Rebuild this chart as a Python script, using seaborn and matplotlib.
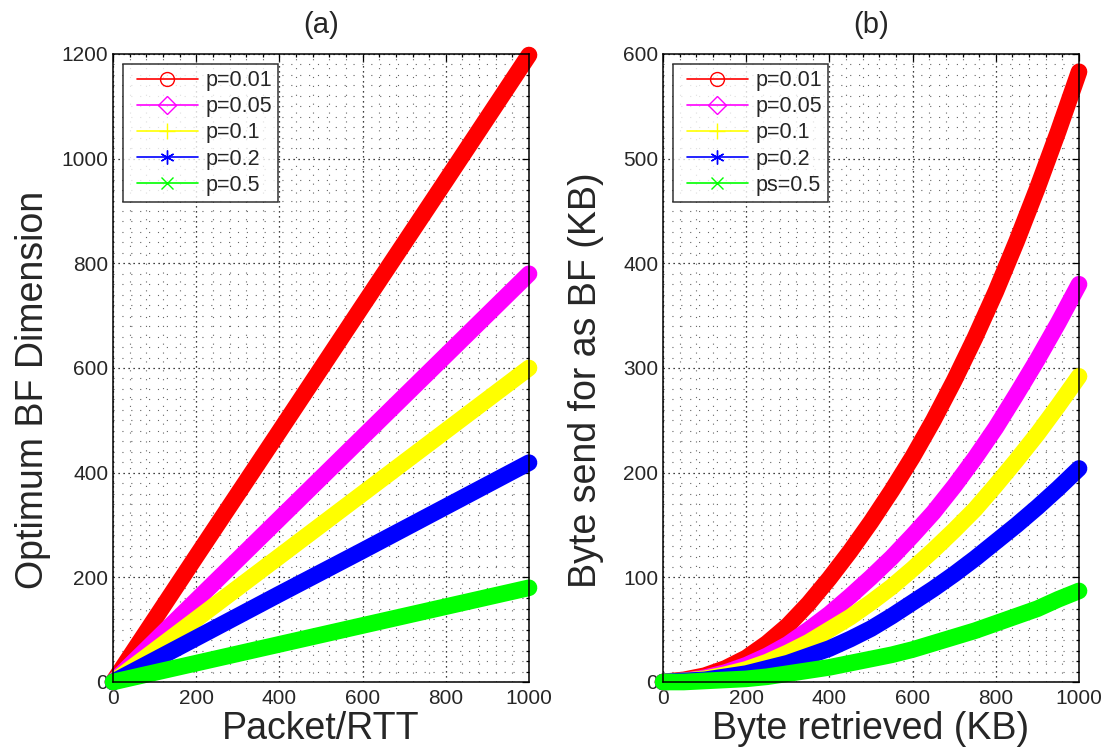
import matplotlib
matplotlib.use("Agg")
import matplotlib.pyplot as plt
import seaborn as sns
import pandas as pd
from matplotlib.lines import Line2D
from matplotlib.legend_handler import HandlerLine2D
from matplotlib.ticker import MultipleLocator

sns.set_style("white")
plt.rcParams['font.family'] = ['Liberation Sans', 'DejaVu Sans']
plt.rcParams['xtick.direction'] = 'in'
plt.rcParams['ytick.direction'] = 'in'

# ---------------- data ----------------
labels_a = ["p=0.01", "p=0.05", "p=0.1", "p=0.2", "p=0.5"]
labels_b = ["p=0.01", "p=0.05", "p=0.1", "p=0.2", "ps=0.5"]

x_a = [0, 200, 400, 600, 800, 1000]
a_p001 = [0, 240, 479, 719, 958, 1198]
a_p005 = [0, 156, 312, 468, 624, 780]
a_p01 = [0, 120, 240, 360, 480, 600]
a_p02 = [0, 84, 168, 251, 335, 419]
a_p05 = [0, 36, 72, 108, 144, 180]

x_b = [0, 50, 100, 150, 200, 250, 300, 350, 400, 450, 500,
       550, 600, 650, 700, 750, 800, 850, 900, 950, 1000]
b_p001 = [0, 2, 6, 13, 23, 37, 54, 75, 99, 125, 153,
          183, 215, 250, 288, 329, 373, 421, 472, 526, 583]
b_p005 = [0, 1, 4, 9, 16, 25, 36, 50, 65, 82, 100,
          119, 140, 162, 187, 214, 243, 275, 308, 343, 380]
b_p01 = [0, 1, 3, 7, 12, 19, 28, 38, 50, 62, 76,
         91, 108, 126, 145, 165, 188, 212, 237, 264, 292]
b_p02 = [0, 1, 2, 5, 8, 13, 18, 25, 32, 41, 51,
         63, 76, 89, 103, 118, 134, 150, 167, 185, 204]
b_p05 = [0, 0, 1, 2, 3, 5, 8, 11, 14, 18, 22,
         26, 31, 37, 43, 49, 56, 63, 70, 79, 87]

colors = ["#ff0000", "#ff00ff", "#ffff00", "#0000ff", "#00ff00"]
asterisk = (6, 2, 0)
markers = ["o", "D", "+", asterisk, "x"]
msizes = [10, 9, 11, 10, 9]

fig = plt.figure(figsize=(11.06, 7.55), dpi=100)
ax_a = fig.add_axes([0.1022, 0.0967, 0.3761, 0.8318])
ax_b = fig.add_axes([0.5995, 0.0967, 0.3761, 0.8318])


def draw(ax, x, series, labels, ylim, ymajor, yminor, ylabel, xlabel, title,
         ylab_xy):
    for ys, c, lab in zip(series, colors, labels):
        df = pd.DataFrame({"x": x, "y": ys})
        sns.lineplot(data=df, x="x", y="y", ax=ax, color=c, linewidth=12,
                     sort=False, legend=False, estimator=None)
    for ln in ax.get_lines():
        ln.set_clip_on(False)
        ln.set_solid_capstyle("round")
        ln.set_solid_joinstyle("round")
    ax.set_xlim(0, 1000)
    ax.set_ylim(*ylim)
    ax.xaxis.set_major_locator(MultipleLocator(200))
    ax.xaxis.set_minor_locator(MultipleLocator(40))
    ax.yaxis.set_major_locator(MultipleLocator(ymajor))
    ax.yaxis.set_minor_locator(MultipleLocator(yminor))
    ax.tick_params(which="both", top=True, right=True, direction="in",
                   labelsize=15, width=0.9, color="black")
    ax.tick_params(axis="y", which="both", pad=3.5)
    ax.tick_params(axis="x", which="both", pad=5)
    ax.tick_params(which="major", length=5)
    ax.tick_params(which="minor", length=2.5)
    ax.grid(which="major", linestyle=(0, (1, 3)), color="black", linewidth=0.9)
    ax.grid(which="minor", linestyle=(0, (1, 7)), color="0.4", linewidth=0.8)
    ax.set_axisbelow(True)
    for s in ax.spines.values():
        s.set_color("black")
        s.set_linewidth(1.1)
    ax.set_xlabel(xlabel, fontsize=27, labelpad=2)
    ax.set_ylabel(ylabel, fontsize=27)
    ax.yaxis.set_label_coords(*ylab_xy)
    ax.set_title(title, fontsize=21, pad=15)
    handles = [Line2D([0], [0], color=c, marker=m, markersize=ms, linewidth=1.2,
                      markerfacecolor="none" if m in ("o", "D") else c,
                      markeredgecolor=c, markeredgewidth=1.0)
               for c, m, ms in zip(colors, markers, msizes)]
    hmap = {h: HandlerLine2D(xpad=0.35) for h in handles}
    leg = ax.legend(handles, labels, loc="upper left", fontsize=15.5,
                    frameon=True, fancybox=False, edgecolor="black",
                    handlelength=3.2, handletextpad=0.33, borderpad=0.3,
                    labelspacing=0.24, borderaxespad=0.45, handler_map=hmap)
    leg.get_frame().set_linewidth(1.1)
    leg.set_zorder(10)


draw(ax_a, x_a, [a_p001, a_p005, a_p01, a_p02, a_p05], labels_a,
     (0, 1200), 200, 20, "Optimum BF Dimension", "Packet/RTT", "(a)",
     (-0.15, 0.465))
draw(ax_b, x_b, [b_p001, b_p005, b_p01, b_p02, b_p05], labels_b,
     (0, 600), 100, 10, "Byte send for as BF (KB)", "Byte retrieved (KB)", "(b)",
     (-0.143, 0.481))

fig.savefig("out.png", dpi=100, facecolor="white")
